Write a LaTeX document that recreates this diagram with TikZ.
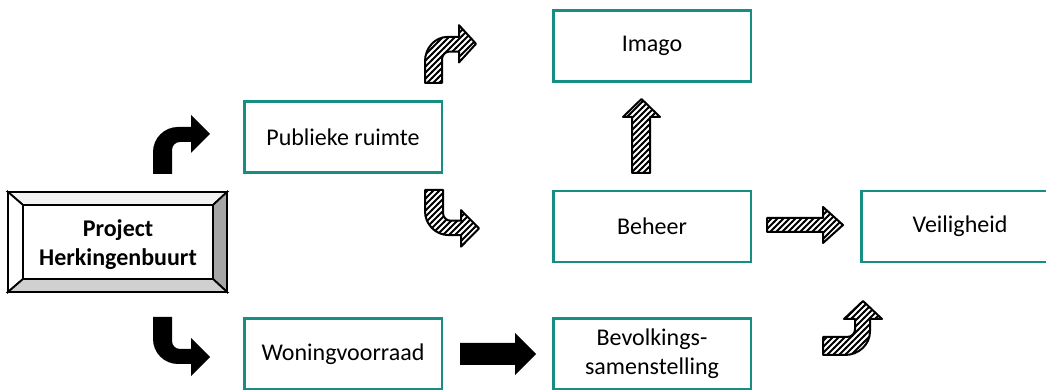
\documentclass[tikz,border=0pt]{standalone}
\usepackage{fontspec}
\setmainfont{Carlito}
\usetikzlibrary{patterns}

% diagonal hatching used for the outlined block arrows
\pgfdeclarepatternformonly{hatchy}{\pgfqpoint{-1pt}{-1pt}}{\pgfqpoint{7pt}{7pt}}{\pgfqpoint{6pt}{6pt}}{%
  \pgfsetlinewidth{1.8pt}%
  \pgfpathmoveto{\pgfqpoint{-0.5pt}{-0.5pt}}%
  \pgfpathlineto{\pgfqpoint{6.5pt}{6.5pt}}%
  \pgfusepath{stroke}}

\definecolor{boxteal}{RGB}{22,142,132}
\definecolor{bevright}{RGB}{166,166,166}
\definecolor{bevbottom}{RGB}{208,208,208}
\definecolor{bevtop}{RGB}{242,242,242}

\tikzset{
  x=1pt, y=1pt,
  topic/.style={draw=boxteal, line width=2.5pt, minimum width=197.5pt,
    minimum height=71pt, inner sep=0pt, outer sep=0pt, font=\fontsize{24}{29}\selectfont,
    align=center, fill=white},
  solidarrow/.style={fill=black},
  hatcharrow/.style={pattern=hatchy, draw=black, line width=2pt, line join=round},
  % bent block arrow: stem rises from (0,0), turns right, head points right
  bent/.pic={
    \path[pic actions] (0,0) -- (0,22) arc[start angle=180,end angle=90,radius=25]
      -- (38,47) -- (38,59) -- (57,40) -- (38,21) -- (38,32) -- (27,32)
      arc[start angle=90,end angle=180,radius=8] -- (19,0) -- cycle;
  },
}

\begin{document}
\begin{tikzpicture}
\useasboundingbox (0,0) rectangle (1046,390);

% bevelled project box
\coordinate (oTL) at (8,198);  \coordinate (oTR) at (227,198);
\coordinate (oBL) at (8,98);   \coordinate (oBR) at (227,98);
\coordinate (iTL) at (23,185); \coordinate (iTR) at (213,185);
\coordinate (iBL) at (23,111); \coordinate (iBR) at (213,111);
\begin{scope}[draw=black, line width=1.8pt, line join=miter]
  \filldraw[fill=bevtop]    (oTL) -- (oTR) -- (iTR) -- (iTL) -- cycle;
  \filldraw[fill=white]     (oTL) -- (oBL) -- (iBL) -- (iTL) -- cycle;
  \filldraw[fill=bevright]  (oTR) -- (oBR) -- (iBR) -- (iTR) -- cycle;
  \filldraw[fill=bevbottom] (oBL) -- (oBR) -- (iBR) -- (iBL) -- cycle;
  \filldraw[fill=white]     (iTL) rectangle (iBR);
\end{scope}
\node[align=center, font=\bfseries\fontsize{24}{29}\selectfont] (proj) at (118,145)
  {Project\\Herkingenbuurt};

% topic boxes
\node[topic] (pub)   at (343,253)   {Publieke ruimte};
\node[topic] (imago) at (652,344)   {Imago};
\node[topic] (beh)   at (652,163.5) {Beheer};
\node[topic] (veil)  at (960,163.5) {Veiligheid};
\node[topic] (won)   at (343,36)    {Woningvoorraad};
\node[topic] (bev)   at (652,36)    {Bevolkings-\\samenstelling};

% solid block arrows
\pic[solidarrow] at (153,216) {bent};
\pic[solidarrow, yscale=-1] at (153,73) {bent};
\fill[solidarrow] (460,47) -- (515,47) -- (515,57) -- (536,36) -- (515,15)
  -- (515,25) -- (460,25) -- cycle;

% hatched block arrows
\pic[hatcharrow, xscale=17/19, yscale=0.98] at (425,307) {bent};
\pic[hatcharrow, xscale=18/19, yscale=-0.96] at (425,200) {bent};
\pic[hatcharrow, cm={0,1,1,0,(0,0)}, xscale=18/19] at (823,35) {bent};
\draw[hatcharrow] (632,217) -- (632,273) -- (623,273) -- (641.5,291) -- (660,273)
  -- (650,273) -- (650,217) -- cycle;
\draw[hatcharrow] (767,172) -- (823,172) -- (823,183) -- (843,165) -- (823,147)
  -- (823,158) -- (767,158) -- cycle;
\end{tikzpicture}
\end{document}
